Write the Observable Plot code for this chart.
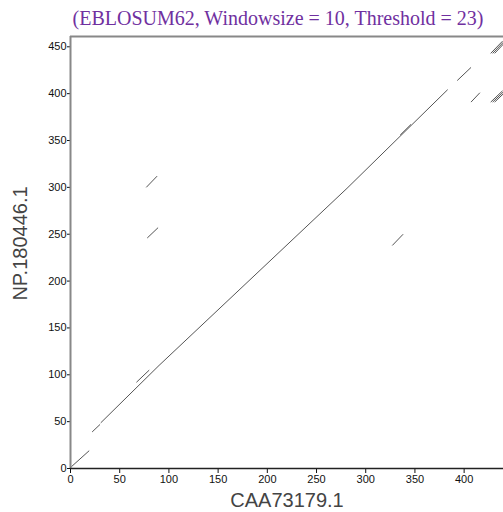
<!DOCTYPE html>
<html>
<head>
<meta charset="utf-8">
<script src="https://cdn.jsdelivr.net/npm/d3@7"></script>
<script src="https://cdn.jsdelivr.net/npm/@observablehq/plot@0.6"></script>
<style>
  body { margin: 0; background: white; }
  #wrap { position: relative; width: 503px; height: 512px; }
  #title { position: absolute; top: 5px; left: 28px; width: 500px; text-align: center;
           font-family: "Liberation Serif", "Times New Roman", serif; font-size: 20px; color: #7030A0; line-height: 26px; white-space: nowrap; }
  #chart { position: absolute; top: 30px; left: 0; }
</style>
</head>
<body>
<div id="wrap">
  <div id="title">(EBLOSUM62, Windowsize = 10, Threshold = 23)</div>
  <div id="chart"></div>
</div>
<script>
const titleText = "(EBLOSUM62, Windowsize = 10, Threshold = 23)";
const xLabel = "CAA73179.1";
const yLabel = "NP.180446.1";
const xTicks = [0, 50, 100, 150, 200, 250, 300, 350, 400];
const yTicks = [0, 50, 100, 150, 200, 250, 300, 350, 400, 450];
const xLength = 440;
const yLength = 461;

// main diagonal (long match)
const diagX = [31, 90, 281, 383];
const diagY = [49, 110, 299, 404];

// other match segments
const segX1 = [1, 22, 67, 335, 77, 78, 327, 393, 407, 427, 429, 431, 427, 429, 431];
const segY1 = [2, 39, 92, 355.8, 300, 246, 238, 414, 391, 391, 391, 391, 443, 443, 443];
const segX2 = [19, 30, 80, 346, 88, 89, 338, 407, 416, 439, 440, 440, 439, 440, 440];
const segY2 = [19, 47, 105, 367.2, 312, 257, 250, 428, 401, 403, 402, 400, 456, 455, 453];

const diag = diagX.map((x, i) => ({x, y: diagY[i]}));
const segs = segX1.map((x1, i) => ({x1, y1: segY1[i], x2: segX2[i], y2: segY2[i]}));

const chart = Plot.plot({
  width: 503,
  height: 482,
  marginTop: 6,
  marginRight: 0,
  marginBottom: 44,
  marginLeft: 70,
  x: {domain: [0, xLength]},
  y: {domain: [0, yLength]},
  style: {fontFamily: "'Liberation Sans', Arial, sans-serif", fontSize: "11px", background: "white", color: "#111"},
  marks: [
    Plot.axisX({ticks: xTicks, tickSize: 5, tickPadding: 2, label: null, tickFormat: d => d}),
    Plot.axisY({ticks: yTicks, tickSize: 3, tickPadding: 1, label: null, tickFormat: d => d}),
    Plot.ruleX([0], {stroke: "#888", strokeWidth: 2}),
    Plot.ruleY([yLength], {stroke: "#888", strokeWidth: 2}),
    Plot.ruleY([0], {stroke: "#222", strokeWidth: 1.5}),
    Plot.line(diag, {x: "x", y: "y", stroke: "#555", strokeWidth: 1}),
    Plot.link(segs, {x1: "x1", y1: "y1", x2: "x2", y2: "y2", stroke: "#555", strokeWidth: 1}),
    Plot.text([xLabel], {frameAnchor: "bottom", dy: 32, dx: 0, fontSize: 20, fill: "#444", lineAnchor: "middle", textAnchor: "middle"}),
    Plot.text([yLabel], {frameAnchor: "left", rotate: -90, dx: -50, dy: -9, fontSize: 20, fill: "#444", lineAnchor: "middle", textAnchor: "middle"})
  ]
});
document.getElementById("chart").appendChild(chart);
</script>
</body>
</html>
